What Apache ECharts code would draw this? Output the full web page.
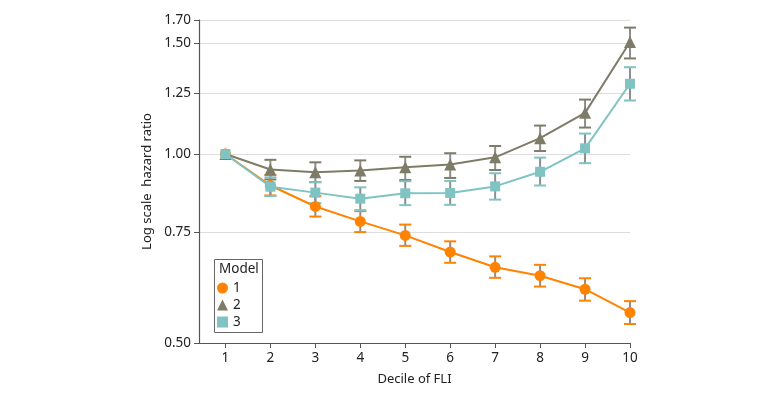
<!DOCTYPE html>
<html><head><meta charset="utf-8">
<script src="https://cdn.jsdelivr.net/npm/echarts@6/dist/echarts.min.js"></script>
<style>html,body{margin:0;padding:0;background:#fff}#c{width:780px;height:405px}</style>
</head><body><div id="c"></div>
<script>
const deciles = [1,2,3,4,5,6,7,8,9,10];
const seriesNames = ['1','2','3'];
const m1 = [1.00,0.891,0.825,0.781,0.742,0.698,0.660,0.640,0.609,0.559];
const m1Low = [null,0.859,0.795,0.751,0.714,0.671,0.635,0.615,0.584,0.536];
const m1High = [null,0.926,0.857,0.811,0.772,0.726,0.687,0.666,0.634,0.583];
const m2 = [1.00,0.945,0.935,0.941,0.953,0.962,0.988,1.060,1.163,1.508];
const m2Low = [null,0.911,0.902,0.906,0.909,0.916,0.943,1.011,1.102,1.420];
const m2High = [null,0.979,0.970,0.977,0.990,1.003,1.030,1.110,1.221,1.590];
const m3 = [1.00,0.887,0.868,0.849,0.866,0.867,0.888,0.937,1.021,1.294];
const m3Low = [null,0.857,0.835,0.814,0.829,0.830,0.846,0.891,0.967,1.217];
const m3High = [null,0.918,0.902,0.885,0.905,0.906,0.932,0.987,1.078,1.375];
const yTickValues = [0.50,0.75,1.00,1.25,1.50,1.635];
const yTickLabels = ['0.50','0.75','1.00','1.25','1.50','1.70'];
const xTickLabels = ['1','2','3','4','5','6','7','8','9','10'];

const colors = ['#FF8300','#7E7C67','#7FC3C3'];
const barGrey = '#8E8E8E';
const ln = Math.log;
const font = '"Noto Sans", sans-serif';

function pts(vals){ return vals.map((v,i)=>[deciles[i], ln(v)]); }
function errData(lo,hi){
  const out=[];
  lo.forEach((l,i)=>{ if(l!=null) out.push([deciles[i], ln(l), ln(hi[i])]); });
  return out;
}
function errSeries(lo,hi,color){
  return {
    type:'custom', z:1, silent:true,
    renderItem:function(params,api){
      const x=api.value(0);
      const p1=api.coord([x,api.value(1)]);
      const p2=api.coord([x,api.value(2)]);
      const w=6;
      return {type:'group',children:[
        {type:'line',shape:{x1:p1[0],y1:p1[1],x2:p2[0],y2:p2[1]},style:{stroke:barGrey,lineWidth:2}},
        {type:'line',shape:{x1:p1[0]-w,y1:p1[1],x2:p1[0]+w,y2:p1[1]},style:{stroke:color,lineWidth:2}},
        {type:'line',shape:{x1:p2[0]-w,y1:p2[1],x2:p2[0]+w,y2:p2[1]},style:{stroke:color,lineWidth:2}}
      ]};
    },
    data:errData(lo,hi)
  };
}
const labelMap = {};
yTickValues.forEach((v,i)=>{ labelMap[ln(v).toFixed(4)] = yTickLabels[i]; });

const chart = echarts.init(document.getElementById('c'));
chart.setOption({
  animation:false,
  grid:{left:199,right:150,top:20,bottom:62},
  xAxis:{
    type:'value', min:0.412, max:10,
    name:'Decile of FLI', nameLocation:'middle', nameGap:30,
    nameTextStyle:{fontFamily:font,fontSize:13,color:'#222'},
    axisLine:{onZero:false,lineStyle:{color:'#555',width:1.2}},
    axisTick:{show:true,length:5,lineStyle:{color:'#555'},customValues:deciles},
    axisLabel:{customValues:deciles,formatter:v=>xTickLabels[deciles.indexOf(Math.round(v))],fontFamily:font,fontSize:13.5,color:'#222',margin:8},
    splitLine:{show:false}
  },
  yAxis:{
    type:'value', min:ln(0.5), max:ln(1.635),
    name:'Log scale  hazard ratio', nameLocation:'middle', nameGap:36,
    nameTextStyle:{fontFamily:font,fontSize:13,color:'#222'},
    axisLine:{show:true,onZero:false,lineStyle:{color:'#555',width:1.2}},
    axisTick:{show:true,length:5,lineStyle:{color:'#555'},customValues:yTickValues.map(ln)},
    axisLabel:{customValues:yTickValues.map(ln),formatter:v=>labelMap[v.toFixed(4)]||'',fontFamily:font,fontSize:13.5,color:'#222',margin:8},
    splitLine:{show:true,lineStyle:{color:'#DDDDDD',width:1.2}}
  },
  legend:{
    orient:'vertical', left:212, top:276, itemWidth:11, itemHeight:11, itemGap:3,
    textStyle:{fontFamily:font,fontSize:13.5,color:'#222'},
    data:[{name:'1',icon:'circle'},{name:'2',icon:'triangle'},{name:'3',icon:'rect'}]
  },
  graphic:[
    {type:'rect',left:212,top:257,shape:{width:48,height:73},style:{fill:'none',stroke:'#666',lineWidth:1},z:100},
    {type:'text',left:219,top:262,style:{text:'Model',font:'13.5px '+font,fill:'#222'},z:100}
  ],
  series:[
    errSeries(m1Low,m1High,colors[0]),
    errSeries(m2Low,m2High,colors[1]),
    errSeries(m3Low,m3High,colors[2]),
    {name:'1',type:'line',data:pts(m1),symbol:'circle',symbolSize:11,itemStyle:{color:colors[0]},lineStyle:{color:colors[0],width:2},z:3},
    {name:'2',type:'line',data:pts(m2),symbol:'triangle',symbolSize:12,itemStyle:{color:colors[1]},lineStyle:{color:colors[1],width:2},z:4},
    {name:'3',type:'line',data:pts(m3),symbol:'rect',symbolSize:10,itemStyle:{color:colors[2]},lineStyle:{color:colors[2],width:2},z:5}
  ]
});
</script></body></html>
